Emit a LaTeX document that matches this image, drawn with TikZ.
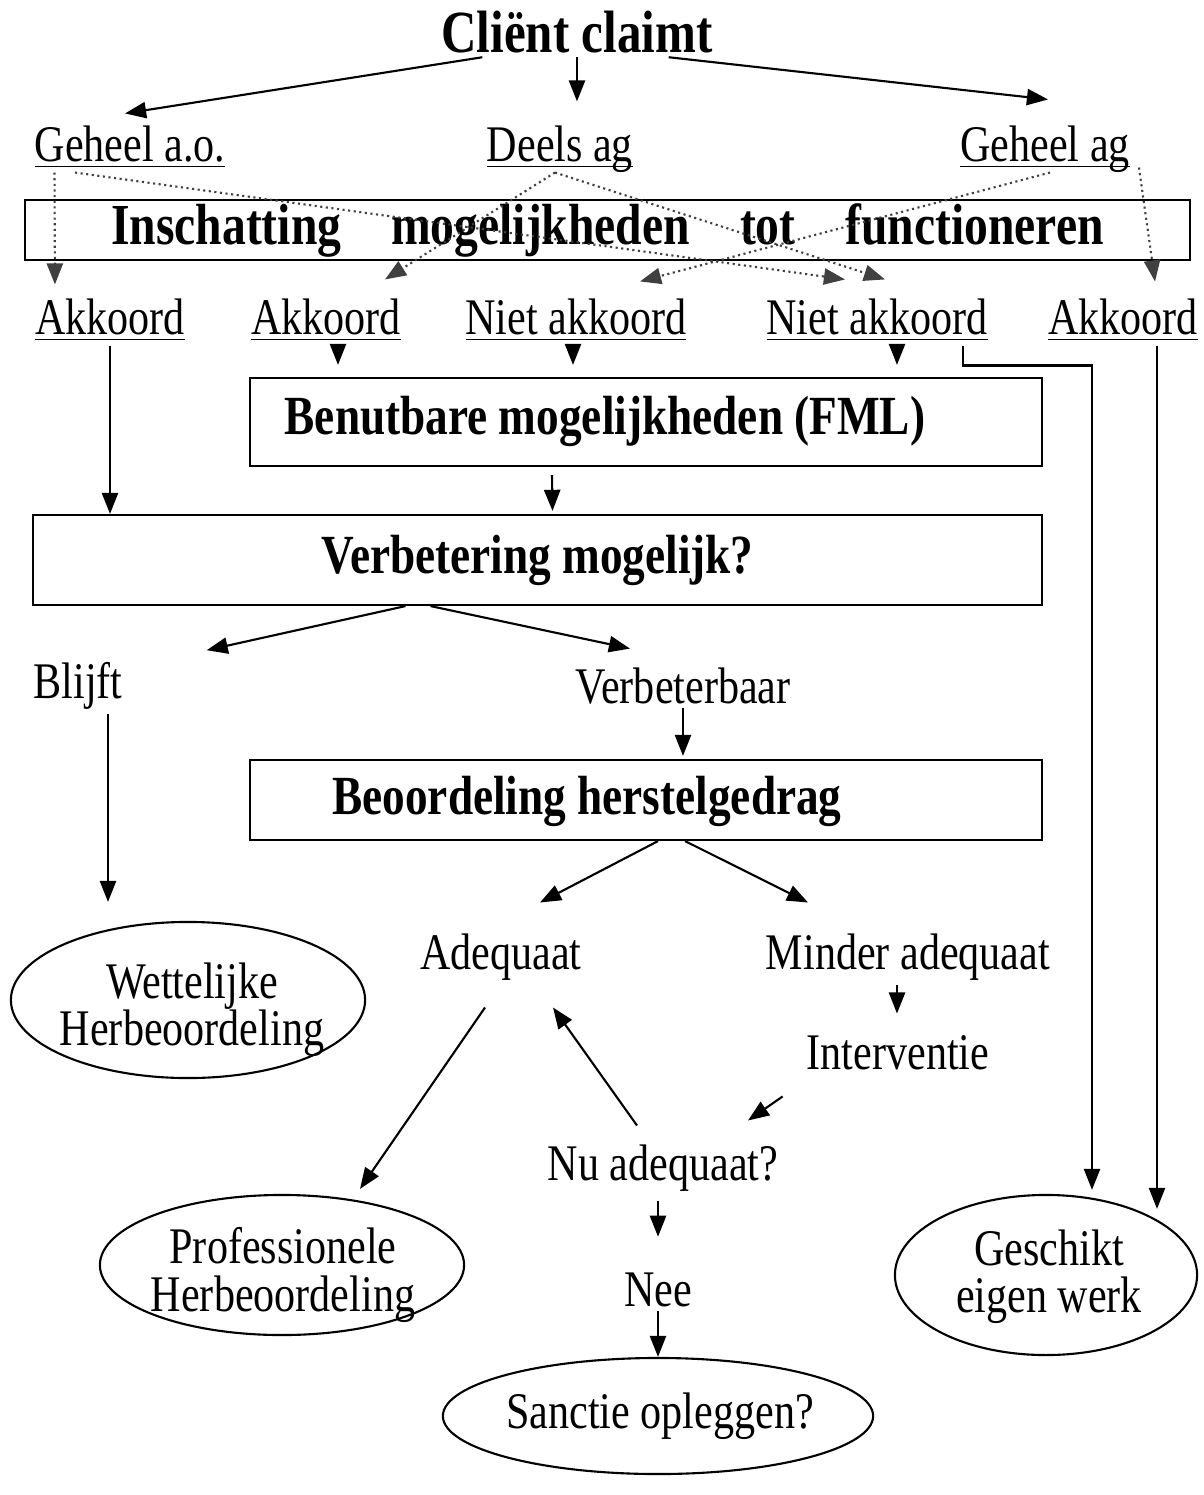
\documentclass[tikz,border=0pt]{standalone}
\usepackage{fontspec}
\setmainfont{Liberation Serif}[FakeStretch=0.82]
\usetikzlibrary{arrows.meta,shapes.geometric,calc}

% underline at the baseline, descenders cross it
\newcommand\lblline[1]{\underline{\raisebox{0pt}[\height][0pt]{#1}}}

\tikzset{
	lbl/.style={inner sep=1pt,font=\fontsize{14.6}{15}\selectfont},
	ttl/.style={inner sep=1pt,font=\fontsize{15.7}{17}\selectfont\bfseries},
	frame/.style={draw,semithick,inner sep=0pt},
	oval/.style={draw,semithick,ellipse,inner sep=0pt},
	ovaltxt/.style={lbl,align=center,font=\fontsize{14.6}{13.4}\selectfont},
	arr/.style={semithick,-{Triangle[length=6pt,width=4.6pt]}},
	dots/.style={arr,densely dotted,black!75},
}

\begin{document}
\begin{tikzpicture}[x=0.01cm,y=-0.01cm]
	% page size
	\useasboundingbox (0,0) rectangle (1204,1495);
	% the claim and its three outcomes
	\node[lbl,font=\fontsize{17}{18}\selectfont\bfseries] (claim) at (577,32) {Cliënt claimt};
	\node[lbl] (gao) at (130,147) {\lblline{Geheel a.o.}};
	\node[lbl] (deels) at (560,147) {\lblline{Deels ag}};
	\node[lbl] (gag) at (1045,147) {\lblline{Geheel ag}};
	\draw[arr] ($(claim.south west)+(45,0)$) -- ($(gao.north)+(-5,-8)$);
	\draw[arr] (claim.south) -- ($(claim.south |- deels.north)+(0,-20)$);
	\draw[arr] ($(claim.south east)+(-48,0)$) -- ($(gag.north)+(3,-22)$);
	% first box
	\node[frame,ttl,font=\fontsize{16.5}{17}\selectfont\bfseries,minimum width=11.65cm,minimum height=0.6cm] (insch) at (607.5,230)
		{Inschatting\hspace{5mm}mogelijkheden\hspace{5mm}tot\hspace{5mm}functioneren};
	% agree / disagree row
	\node[lbl] (ak1) at (110,320) {\lblline{Akkoord}};
	\node[lbl] (ak2) at (326,320) {\lblline{Akkoord}};
	\node[lbl] (na1) at (576,320) {\lblline{Niet akkoord}};
	\node[lbl] (na2) at (877,320) {\lblline{Niet akkoord}};
	\node[lbl] (ak3) at (1123,320) {\lblline{Akkoord}};
	% dotted links through the first box
	\draw[dots] ($(gao.south west)+(24,0)$) -- ($(ak1.north west)+(24,-10)$);
	\draw[dots] ($(gao.south)+(-55,0)$) -- ($(na2.north)+(-32,-15)$);
	\draw[dots] ($(deels.south)+(-5,0)$) -- ($(ak2.north)+(59,-15)$);
	\draw[dots] ($(deels.south)+(-5,0)$) -- ($(na2.north)+(8,-15)$);
	\draw[dots] ($(gag.south)+(5,0)$) -- ($(na1.north)+(64,-13)$);
	\draw[dots] ($(gag.south east)+(5,-5)$) -- ($(ak3.north)+(32,-13)$);
	% usable possibilities
	\node[frame,minimum width=7.92cm,minimum height=0.88cm] (fml) at (646,422) {};
	\node[ttl] (fmltxt) at (605,421) {Benutbare mogelijkheden (FML)};
	\draw[arr] ($(ak2.south)+(12,0)$) -- ($(ak2.south |- fml.north)+(12,-12)$);
	\draw[arr] ($(na1.south)+(-3,0)$) -- ($(na1.south |- fml.north)+(-3,-12)$);
	\draw[arr] ($(na2.south)+(20,0)$) -- ($(na2.south |- fml.north)+(20,-12)$);
	% improvement
	\node[frame,ttl,minimum width=10.09cm,minimum height=0.9cm] (verb) at (537.5,560) {Verbetering mogelijk?};
	\draw[arr] (ak1.south) -- (ak1.south |- verb.north);
	\draw[arr] ($(fml.south)+(-94,8)$) -- ($(verb.north)+(15,-3)$);
	\node[lbl] (blijft) at (78,686) {Blijft};
	\node[lbl] (vbaar) at (683,686) {Verbeterbaar};
	\draw[arr] ($(verb.south)+(-132,0)$) -- ($(blijft.north east)+(80,-8)$);
	\draw[arr] ($(verb.south)+(-107,0)$) -- ($(vbaar.north)+(-53,-15)$);
	% recovery behaviour
	\node[frame,minimum width=7.92cm,minimum height=0.8cm] (beo) at (646,800) {};
	\node[ttl] (beotxt) at (587,801) {Beoordeling herstelgedrag};
	\draw[arr] (vbaar.south) -- ($(vbaar.south |- beo.north)+(0,-3)$);
	\node[lbl] (adeq) at (501,957) {Adequaat};
	\node[lbl] (minder) at (908,957) {Minder adequaat};
	\node[lbl] (interv) at (898,1053) {Interventie};
	\node[lbl] (nuadeq) at (663,1168) {Nu adequaat?};
	\node[lbl] (nee) at (658,1290) {Nee};
	\draw[arr] ($(beo.south)+(12,0)$) -- ($(adeq.north)+(39,-27)$);
	\draw[arr] ($(beo.south)+(39,0)$) -- ($(minder.north)+(-100,-27)$);
	\draw[arr] ($(minder.south)+(-11,0)$) -- ($(interv.north)+(-1,-18)$);
	\draw[arr] ($(interv.south west)+(-20,22)$) -- ($(nuadeq.north)+(85,-20)$);
	\draw[arr] ($(nuadeq.north)+(-26,-15)$) -- ($(adeq.south)+(52,23)$);
	\draw[arr] ($(nuadeq.south)+(-5,5)$) -- ($(nee.north)+(0,-32)$);
	% end points
	\node[oval,minimum width=3.54cm,minimum height=1.56cm] (wet) at (188,1000) {};
	\node[ovaltxt] (wettxt) at (192,1010) {Wettelijke\\Herbeoordeling};
	\node[oval,minimum width=3.64cm,minimum height=1.4cm] (prof) at (282,1265) {};
	\node[ovaltxt] (proftxt) at (283,1275) {Professionele\\Herbeoordeling};
	\node[oval,minimum width=3.02cm,minimum height=1.6cm] (geschikt) at (1046,1275) {};
	\node[ovaltxt] (geschtxt) at (1049,1277) {Geschikt\\eigen werk};
	\node[oval,minimum width=4.3cm,minimum height=1.16cm] (sanctie) at (658,1416) {};
	\node[lbl] (sanctxt) at (660,1416) {Sanctie opleggen?};
	\draw[arr] ($(blijft.south)+(30,0)$) -- ($(wet.north)+(-80,-19)$);
	\draw[arr] ($(adeq.south)+(-16,23)$) -- ($(prof.north)+(78,-5)$);
	\draw[arr] (nee.south) -- (sanctie.north);
	\draw[arr] ($(na2.south east)+(-29,0)$) -- ++(0,20) -| ($(geschikt.north)+(46,-4)$);
	\draw[arr] ($(ak3.south)+(34,0)$) -- ($(ak3.south |- geschikt.north)+(34,15)$);
\end{tikzpicture}
\end{document}
